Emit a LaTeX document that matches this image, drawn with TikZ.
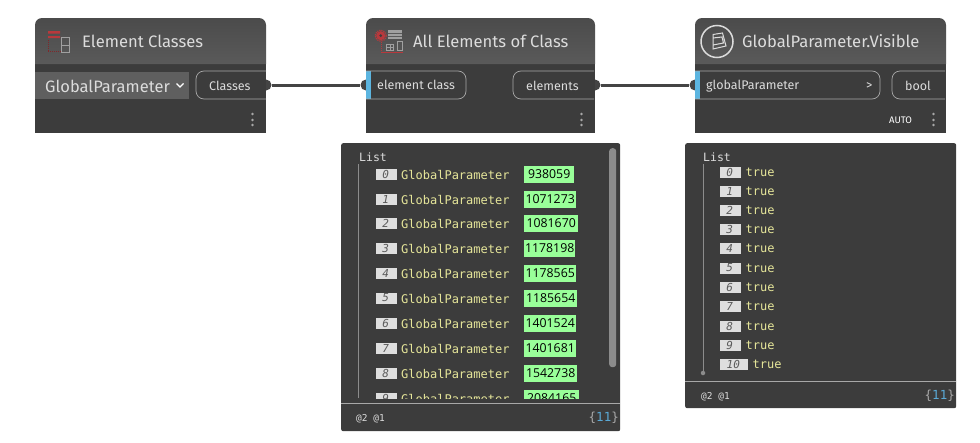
\documentclass[tikz,border=0pt]{standalone}
\usepackage{fontspec}
\setmainfont{Fira Sans}
\setmonofont{DejaVu Sans Mono}
\newfontfamily\valuefont{Open Sans}
\usetikzlibrary{positioning}

\definecolor{bodygray}{HTML}{3C3C3C}
\definecolor{hdrtop}{HTML}{4B4B4B}
\definecolor{hdrbot}{HTML}{5A5A5A}
\definecolor{titlegray}{HTML}{DCDCDC}
\definecolor{pillgray}{HTML}{A8A8A8}
\definecolor{combogray}{HTML}{5F5F5F}
\definecolor{portblue}{HTML}{5CB5E0}
\definecolor{wiregray}{HTML}{444444}
\definecolor{idxgray}{HTML}{DEDEDE}
\definecolor{idxtext}{HTML}{5A5A5A}
\definecolor{listyellow}{HTML}{E6E69A}
\definecolor{valgreen}{HTML}{99FF99}
\definecolor{treegray}{HTML}{8C8C8C}
\definecolor{iconred}{HTML}{B8383C}
\definecolor{icongray}{HTML}{A0A0A0}
\definecolor{countblue}{HTML}{5AA9D6}

\tikzset{
  body/.style={fill=bodygray,inner sep=0pt,outer sep=0pt},
  header/.style={top color=hdrtop,bottom color=hdrbot,draw=none},
  title/.style={text=titlegray,anchor=base west,inner sep=0pt,font=\fontsize{16.6}{18}\selectfont},
  pill/.style={draw=pillgray,line width=0.7pt,rounded corners=8pt},
  portlabel/.style={text=titlegray,anchor=base west,inner sep=0pt,font=\fontsize{12.5}{14}\selectfont},
  portdot/.style={circle,fill=wiregray,inner sep=0pt,minimum size=11pt},
  wire/.style={draw=wiregray,line width=3pt},
  panel/.style={fill=bodygray,rounded corners=2pt,anchor=north west,inner sep=0pt},
  listhead/.style={text=titlegray,anchor=base west,inner sep=0pt,font=\ttfamily\fontsize{11.5}{13}\selectfont},
  idxbox/.style={fill=idxgray,text=idxtext,inner sep=0pt,minimum height=11pt,anchor=west,font=\ttfamily\itshape\fontsize{11}{11}\selectfont},
  itemtext/.style={text=listyellow,anchor=base west,inner sep=0pt,font=\ttfamily\fontsize{12}{13}\selectfont},
  valbox/.style={fill=valgreen,text=black,inner sep=0pt,minimum height=17pt,anchor=west,font=\valuefont\fontsize{12.3}{14}\selectfont},
  foot/.style={text=titlegray,anchor=base west,inner sep=0pt,font=\ttfamily\fontsize{9.5}{11}\selectfont},
  count/.style={text=pillgray,anchor=base east,inner sep=0pt,font=\ttfamily\fontsize{12.5}{14}\selectfont},
}

% one row of each watch list: name, y, index, index width
\newcommand{\objrow}[5]{
  \node[idxbox,minimum width=21pt] (oi#1) at (376,#2) {#3\,};
  \node[itemtext] (ot#1) at (401,#2+5) {GlobalParameter};
  \node[valbox,minimum width=#5pt] (ov#1) at (524,#2) {#4};
}
\newcommand{\boolrow}[4]{
  \node[idxbox,minimum width=#4pt] (bi#1) at (720,#2) {#3\,};
  \node[itemtext] (bt#1) [right=4pt of bi#1.east,anchor=west] {true};
}
\newcommand{\menudots}[1]{
  \fill[pillgray] (#1,114) circle (1.3) (#1,120) circle (1.3) (#1,125) circle (1.3);
}

\begin{document}
\begin{tikzpicture}[x=1pt,y=-1pt]
  \useasboundingbox (0,0) rectangle (980,442);

  % ports first, the bodies hide one half of each
  \node[portdot] (classesout) at (266,85) {};
  \node[portdot] (classin)    at (366,85) {};
  \node[portdot] (elemout)    at (595,85) {};
  \node[portdot] (paramin)    at (695,85) {};

  \path
     (classesout) edge[wire] (classin)
     (elemout)    edge[wire] (paramin)
  ;

  % Element Classes
  \node[body,anchor=north west,minimum width=231pt,minimum height=69pt] (classes) at (35,64) {};
  \path[header] (35,64) [rounded corners=7pt] -- (35,18) -- (266,18) [sharp corners] -- (266,64) -- cycle;
  \node[title] (classestitle) at (82,47) {Element Classes};
  \fill[iconred] (48,31) rectangle (60,33.5) (48,36) rectangle (60,38);
  \draw[iconred!70!black,densely dotted,line width=0.9pt] (48,40) -- (48,51) -- (61,51);
  \draw[icongray,line width=1pt] (61.5,37.5) rectangle (69.5,52) (61.5,45) -- (69.5,45);
  \node[fill=combogray,anchor=north west,inner sep=0pt,minimum width=154pt,minimum height=27pt] (combo) at (35,72) {};
  \node[portlabel,font=\fontsize{16.5}{18}\selectfont] (combotext) at (45,92) {GlobalParameter};
  \draw[white,line width=1.2pt] (176.5,83.5) -- (180,87) -- (183.5,83.5);
  \draw[pill] (266,71) -- (196,71) -- (196,99) -- (266,99);
  \node[portlabel] (classeslabel) at (209,90) {Classes};
  \menudots{252.5}

  % All Elements of Class
  \node[body,anchor=north west,minimum width=229pt,minimum height=69pt] (allelems) at (366,64) {};
  \path[header] (366,64) [rounded corners=7pt] -- (366,18) -- (595,18) [sharp corners] -- (595,64) -- cycle;
  \node[title] (allelemstitle) at (413,47) {All Elements of Class};
  \fill[iconred] (380.7,35.7) circle (4.5);
  \draw[iconred,densely dotted,line width=1.2pt] (380.7,35.7) circle (5.6);
  \fill[bodygray] (380.7,35.7) circle (1.5);
  \fill[icongray] (388,30) rectangle (402,38.5);
  \draw[hdrbot,line width=0.6pt] (388,33) -- (402,33) (388,36) -- (402,36);
  \draw[icongray,line width=0.9pt] (386.5,44) rectangle (393.5,50.5) (390,44) -- (390,50.5) (386.5,47) -- (393.5,47);
  \draw[icongray,line width=0.9pt] (397,41.5) rectangle (402.5,50.5);
  \draw[iconred,densely dotted,line width=0.9pt] (381,42) -- (381,52);
  \draw[iconred,line width=0.9pt] (381,52.5) -- (403,52.5);
  \fill[portblue] (366,71) rectangle (371,99);
  \draw[pill] (366,71) -- (466,71) -- (466,99) -- (366,99);
  \node[portlabel] (classlabel) at (377,89) {element class};
  \draw[pill] (594,71) -- (513,71) -- (513,99) -- (594,99);
  \node[portlabel] (elemlabel) at (526,90) {elements};
  \menudots{581.5}

  % GlobalParameter.Visible
  \node[body,anchor=north west,minimum width=251pt,minimum height=69pt] (visible) at (695,64) {};
  \path[header] (695,64) [rounded corners=7pt] -- (695,18) -- (946,18) [sharp corners] -- (946,64) -- cycle;
  \node[title] (visibletitle) at (742,47) {GlobalParameter.Visible};
  \draw[titlegray,line width=1.5pt] (717,41.5) circle (16);
  \draw[titlegray,line width=1pt] (713,34.5) -- (722.5,33) -- (726,46) -- (713,49) -- cycle (713,38) -- (722,37) -- (723.5,43) -- (713,45);
  \fill[portblue] (695,71) rectangle (700,99);
  \draw[pill] (695,71) -- (880,71) -- (880,99) -- (695,99);
  \node[portlabel] (paramlabel) at (706,89) {globalParameter};
  \node[portlabel] (lacing) at (866,89) {>};
  \draw[pill] (945,71) -- (892,71) -- (892,99) -- (945,99);
  \node[portlabel] (boollabel) at (905,90) {bool};
  \node[text=white,anchor=base west,inner sep=0pt,font=\fontsize{9.5}{11}\selectfont] (auto) at (889,123) {AUTO};
  \menudots{933.5}

  % preview of All Elements of Class
  \node[panel,minimum width=279pt,minimum height=288pt] (objpanel) at (341,143) {};
  \node[listhead] (objlist) at (359,161) {List};
  \draw[treegray,line width=1pt] (358.5,164) -- (358.5,398);
  \begin{scope}
    \clip (341,143) rectangle (620,398);
    \objrow{0}{174.5}{0}{938059}{50}
    \objrow{1}{199}{1}{1071273}{52}
    \objrow{2}{223.5}{2}{1081670}{54}
    \objrow{3}{248.5}{3}{1178198}{51}
    \objrow{4}{273.5}{4}{1178565}{52}
    \objrow{5}{298}{5}{1185654}{53}
    \objrow{6}{323}{6}{1401524}{52}
    \objrow{7}{348}{7}{1401681}{52}
    \objrow{8}{373}{8}{1542738}{53}
    \objrow{9}{398}{9}{2084165}{55}
  \end{scope}
  \node[fill=treegray,rounded corners=3pt,anchor=north west,inner sep=0pt,minimum width=7pt,minimum height=219pt] (objscroll) at (609,148) {};
  \draw[pillgray,line width=0.8pt] (341,403) -- (620,403);
  \node[foot] (objlevels) at (356,421) {@2 @1};
  \node[count] (objcount) at (619,421) {\{\textcolor{countblue}{11}\}};

  % preview of GlobalParameter.Visible
  \node[panel,minimum width=271pt,minimum height=265pt] (boolpanel) at (685,143) {};
  \node[listhead] (boollist) at (703,161) {List};
  \node[circle,fill=treegray,inner sep=0pt,minimum size=4.5pt] (boolend) at (703,373) {};
  \coordinate (booltop) at (703,164);
  \draw[treegray,line width=1pt] (booltop) -- (boolend);
  \boolrow{0}{172}{0}{21}
  \boolrow{1}{191}{1}{21}
  \boolrow{2}{210}{2}{21}
  \boolrow{3}{229.5}{3}{21}
  \boolrow{4}{248.5}{4}{21}
  \boolrow{5}{268}{5}{21}
  \boolrow{6}{287}{6}{21}
  \boolrow{7}{306}{7}{21}
  \boolrow{8}{326}{8}{21}
  \boolrow{9}{345}{9}{21}
  \boolrow{10}{364}{10}{28}
  \draw[pillgray,line width=0.8pt] (685,381) -- (956,381);
  \node[foot] (boollevels) at (701,399) {@2 @1};
  \node[count] (boolcount) at (955,399.5) {\{\textcolor{countblue}{11}\}};
\end{tikzpicture}
\end{document}
